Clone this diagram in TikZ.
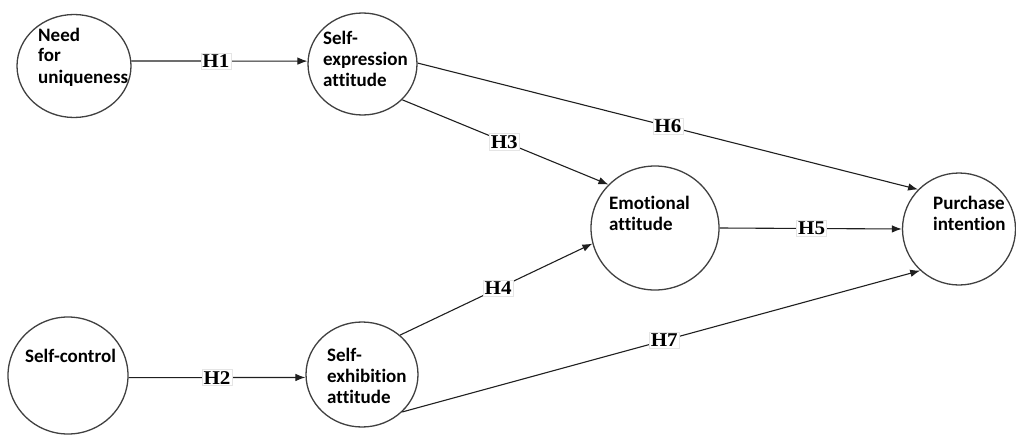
\documentclass[tikz,border=0pt]{standalone}
\usepackage{fontspec}
\setmainfont{Liberation Serif}
\newfontfamily\lblfont[Ligatures=NoCommon]{Carlito}
\newfontfamily\hypfont[FakeStretch=1.08]{Liberation Serif}
\usetikzlibrary{shapes.geometric,arrows.meta}
\begin{document}
\begin{tikzpicture}[x=1pt,y=-1pt,
  var/.style={ellipse, draw=black!75, line width=1.3pt, fill=white, inner sep=0pt},
  vtext/.style={anchor=base west, align=left, inner sep=0pt, font=\lblfont\bfseries\fontsize{19}{21}\selectfont},
  hyp/.style={fill=white, draw=black!10, line width=0.6pt, inner sep=1.5pt, font=\hypfont\bfseries\fontsize{19.5}{19.5}\selectfont},
  link/.style={draw=black!88, line width=1.1pt, -{Latex[length=10pt,width=7.5pt]}}]
\useasboundingbox (0,0) rectangle (1016,436);
% variables
\node[var, minimum width=114pt, minimum height=103pt] (nfu) at (74,66) {};
\node[var, minimum width=109pt, minimum height=102pt] (sea) at (362.5,64) {};
\node[var, minimum width=120pt, minimum height=117pt] (sc) at (68,375.5) {};
\node[var, minimum width=112pt, minimum height=105pt] (sxa) at (362,374.5) {};
\node[var, minimum width=128pt, minimum height=124pt] (emo) at (655,228) {};
\node[var, minimum width=113pt, minimum height=112pt] (pi) at (959,229) {};
% texts (anchor = baseline of last line)
\node[vtext] (t1) at (38,83) {Need\\for\\uniqueness};
\node[vtext] (t2) at (323,86) {Self-\\expression\\attitude};
\node[vtext] (t3) at (25,362) {Self-control};
\node[vtext] (t4) at (327,403) {Self-\\exhibition\\attitude};
\node[vtext] (t5) at (609,230) {Emotional\\attitude};
\node[vtext] (t6) at (933,230) {Purchase\\intention};
% links
\draw[link] (nfu.5) -- node[hyp, pos=0.48] (h1) {H1} (sea.177);
\draw[link] (sc.-2) -- node[hyp, pos=0.5] (h2) {H2} (sxa.183);
\draw[link] (sea.-42) -- node[hyp, pos=0.495] (h3) {H3} (emo.137);
\draw[link] (sxa.46) -- node[hyp, pos=0.51] (h4) {H4} (emo.194.5);
\draw[link] (emo.0) -- node[hyp, pos=0.505] (h5) {H5} (pi.180);
\draw[link] (sea.1) -- node[hyp, pos=0.5] (h6) {H6} (pi.136);
\draw[link] (sxa.-43) -- node[hyp, pos=0.506] (h7) {H7} (pi.227);
\end{tikzpicture}
\end{document}
